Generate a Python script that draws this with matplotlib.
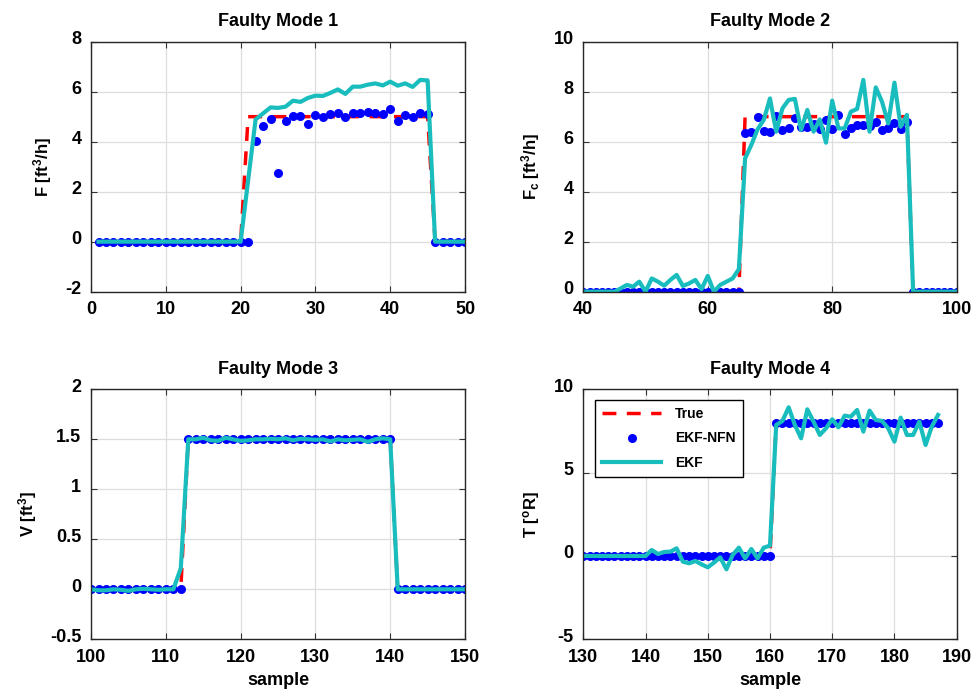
import numpy as np
import matplotlib
matplotlib.use('Agg')
import matplotlib.pyplot as plt
from matplotlib.transforms import ScaledTranslation

plt.rcParams['font.family'] = ['Liberation Sans', 'DejaVu Sans']
plt.rcParams['font.weight'] = 'bold'
plt.rcParams['axes.unicode_minus'] = False
plt.rcParams['mathtext.fontset'] = 'custom'
plt.rcParams['mathtext.bf'] = 'Liberation Sans:bold'
plt.rcParams['mathtext.rm'] = 'Liberation Sans:bold'
plt.rcParams['mathtext.default'] = 'bf'

# ---- Faulty Mode 1 (samples 1..50)
s1 = np.arange(1, 51)
true1 = [0]*20 + [5]*25 + [0]*5
nfn1 = [0]*21 + [4.04, 4.61, 4.89, 2.73, 4.84, 5.01, 5.03, 4.69, 5.08, 5.00,
                 5.09, 5.13, 4.97, 5.16, 5.13, 5.17, 5.15, 5.12, 5.29, 4.83,
                 5.05, 4.97, 5.15, 5.12] + [0]*5
ekf1 = [0]*20 + [2.45, 4.89, 5.13, 5.37, 5.35, 5.40, 5.64, 5.59, 5.75, 5.84,
                 5.83, 5.95, 6.09, 5.91, 6.20, 6.20, 6.28, 6.33, 6.25, 6.40,
                 6.24, 6.33, 6.19, 6.47, 6.45] + [0]*5

# ---- Faulty Mode 2 (samples 40..100)
s2 = np.arange(40, 101)
true2 = [0]*26 + [7]*27 + [0]*8
nfn2 = [0]*26 + [6.33, 6.40, 6.97, 6.43, 6.37, 7.03, 6.47, 6.53, 6.93, 6.60,
                 6.60, 6.71, 6.49, 6.85, 6.52, 7.07, 6.29, 6.56, 6.65, 6.65,
                 6.64, 6.79, 6.47, 6.53, 6.73, 6.49, 6.79] + [0]*8
ekf2 = [0]*6 + [0.13, 0.27, 0.20, 0.40, 0.00, 0.53, 0.40, 0.24, 0.47, 0.67,
                0.23, 0.33, 0.47, 0.10, 0.63, 0.00, 0.27, 0.40, 0.53, 0.90,
                5.33, 5.87, 6.49, 6.87, 7.73, 6.40, 7.33, 7.67, 7.71, 6.47,
                7.27, 6.40, 6.89, 5.96, 7.64, 6.53, 6.53, 7.20, 7.31, 8.47,
                6.40, 8.17, 7.60, 6.73, 8.36, 6.60, 7.07] + [0]*8

# ---- Faulty Mode 3 (samples 100..150)
s3 = np.arange(100, 151)
true3 = [0]*13 + [1.5]*28 + [0]*10
nfn3 = [0]*13 + [1.5]*28 + [0]*10
ekf3 = [0, -0.01, -0.01, 0, -0.005, -0.015, 0, 0.005, 0, -0.005, 0, 0.0, 0.21,
        1.5, 1.5, 1.515, 1.49, 1.485, 1.515, 1.5, 1.485, 1.49, 1.5, 1.5, 1.505,
        1.5, 1.51, 1.49, 1.505, 1.5, 1.495, 1.5, 1.48, 1.5, 1.49, 1.495, 1.5,
        1.475, 1.5, 1.51, 1.5] + [0]*10

# ---- Faulty Mode 4 (samples 130..187)
s4 = np.arange(130, 188)
true4 = [0]*31 + [8]*27
nfn4 = [0]*31 + [7.95]*27
ekf4 = [0]*11 + [0.36, 0.12, 0.24, 0.26, 0.46, -0.34, -0.44, -0.30, -0.50,
                 -0.68, -0.40, -0.08, -0.80, 0.06, 0.50, -0.14, 0.42, -0.14,
                 0.50, 0.62, 7.86, 8.10, 8.92, 7.86, 7.06, 8.80, 8.06, 7.26,
                 7.66, 8.20, 7.72, 8.42, 8.36, 8.76, 7.46, 8.72, 8.16, 8.10,
                 7.66, 6.86, 8.30, 7.26, 7.26, 8.06, 6.66, 7.76, 8.46]

titles = ['Faulty Mode 1', 'Faulty Mode 2', 'Faulty Mode 3', 'Faulty Mode 4']
ylabels = [r'F [ft$^{3}$/h]', r'F$_{c}$ [ft$^{3}$/h]', r'V [ft$^{3}$]', r'T [$^{o}$R]']
xlims = [(0, 50), (40, 100), (100, 150), (130, 190)]
ylims = [(-2, 8), (0, 10), (-0.5, 2), (-5, 10)]
xticks = [np.arange(0, 51, 10), np.arange(40, 101, 20), np.arange(100, 151, 10), np.arange(130, 191, 10)]
yticks = [np.arange(-2, 9, 2), np.arange(0, 11, 2), np.arange(-0.5, 2.01, 0.5), np.arange(-5, 11, 5)]
ytlabels = [None, None, ['-0.5', '0', '0.5', '1', '1.5', '2'], None]

data = [(s1, true1, nfn1, ekf1), (s2, true2, nfn2, ekf2),
        (s3, true3, nfn3, ekf3), (s4, true4, nfn4, ekf4)]

fig = plt.figure(figsize=(9.79, 6.91), dpi=100)
positions = [[0.0930, 0.5779, 0.3820, 0.3618], [0.5958, 0.5779, 0.3814, 0.3618],
             [0.0930, 0.0748, 0.3820, 0.3618], [0.5958, 0.0748, 0.3814, 0.3618]]
cyan = '#1ABDBD'

for i in range(4):
    ax = fig.add_axes(positions[i])
    s, tr, nf, ek = data[i]
    ax.plot(s, tr, '--', color='red', lw=2.5, dashes=(4, 3), label='True')
    ax.plot(s, nf, 'o', color='blue', ms=5.5, label='EKF-NFN')
    ax.plot(s, ek, '-', color=cyan, lw=3, label='EKF')
    ax.set_xlim(xlims[i])
    ax.set_ylim(ylims[i])
    ax.set_xticks(xticks[i])
    ax.set_yticks(yticks[i])
    if ytlabels[i] is not None:
        ax.set_yticklabels(ytlabels[i])
    ax.grid(True, color='#dddddd', lw=0.9)
    ax.set_axisbelow(True)
    ax.tick_params(direction='in', length=4, top=True, right=True, labelsize=13, pad=7,
                   color='#333333')
    for sp in ax.spines.values():
        sp.set_color('#262626')
        sp.set_linewidth(1.0)
    ax.set_title(titles[i], fontsize=13, fontweight='bold', pad=11)
    ax.set_ylabel(ylabels[i], fontsize=12, fontweight='bold', labelpad=8)
    if i >= 2:
        ax.set_xlabel('sample', fontsize=13, fontweight='bold', labelpad=4)
    for lab in ax.get_yticklabels():
        lab.set_transform(lab.get_transform() + ScaledTranslation(0, 0.04, fig.dpi_scale_trans))
    if i == 3:
        leg = ax.legend(loc='upper left', bbox_to_anchor=(0.012, 0.985), fancybox=False,
                        framealpha=1, edgecolor='black', fontsize=10, handlelength=4.3,
                        labelspacing=0.75, borderpad=0.5, handletextpad=1.0)
        leg.get_frame().set_linewidth(1.0)

fig.savefig('out.png', dpi=100)
